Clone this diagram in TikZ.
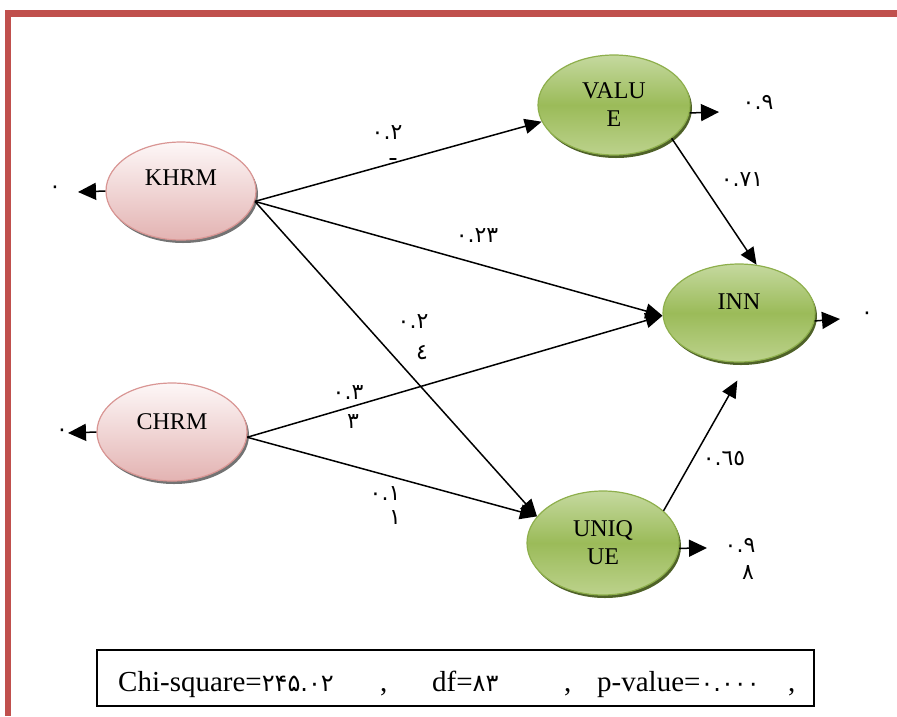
\documentclass[tikz,border=0pt]{standalone}
\usepackage{fontspec}
\setmainfont{Liberation Serif}
\newfontfamily\arab[Script=Arabic]{DejaVu Sans}
\newcommand\bnumfont{\arab\fontsize{24}{26}\selectfont}
\usetikzlibrary{shapes.geometric,arrows.meta,shadows}
\definecolor{framered}{HTML}{C0504D}
\definecolor{pinktop}{HTML}{FDF7F7}
\definecolor{pinkbot}{HTML}{E3B3B2}
\definecolor{pinkline}{HTML}{D99694}
\definecolor{greentop}{HTML}{C5D99F}
\definecolor{greenmid}{HTML}{9BBB59}
\definecolor{greenbot}{HTML}{BCD28C}
\definecolor{greenline}{HTML}{8EAF4C}
\definecolor{greenshadow}{HTML}{4F6228}
\begin{document}
\begin{tikzpicture}[x=1pt,y=-1pt,
  ellfont/.style={font=\fontsize{24}{28}\selectfont},
  pinkell/.style={ellipse, minimum width=150pt, minimum height=98pt, inner sep=0pt,
    draw=pinkline, line width=1.2pt, top color=pinktop, bottom color=pinkbot,
    drop shadow={shadow xshift=2pt, shadow yshift=-3pt, fill=black!55, opacity=1},
    ellfont},
  greenell/.style={ellipse, minimum width=152pt, minimum height=100pt, inner sep=0pt,
    draw=greenline, line width=1.2pt, top color=greentop, bottom color=greenbot, middle color=greenmid,
    drop shadow={shadow xshift=2pt, shadow yshift=-3pt, fill=greenshadow, opacity=1},
    align=center, ellfont},
  conn/.style={line width=1.5pt, -{Triangle[length=17pt,width=15pt]}},
  errarr/.style={line width=1.5pt, -{Triangle[length=18pt,width=17pt]}},
  num/.style={inner sep=0pt, font=\arab\fontsize{22}{24}\selectfont},
  boxtxt/.style={inner sep=0pt, anchor=base west, font=\fontsize{29}{32}\selectfont}
]
\useasboundingbox (0,0) rectangle (897,716);
% frame
\fill[framered] (5,10) rectangle (897,17);
\fill[framered] (5,10) rectangle (11,716);

% nodes
\node[pinkell, label={[yshift=13pt,ellfont]center:KHRM}] (KHRM) at (181,191) {};
\node[pinkell, label={[yshift=10pt,ellfont]center:CHRM}] (CHRM) at (172,432) {};
\node[greenell] (VALUE) at (614,105) {VALU\\E};
\node[greenell, minimum height=98pt, label={[yshift=11pt,ellfont]center:INN}] (INN) at (739,313) {};
\node[greenell, minimum height=104pt] (UNIQUE) at (603,543) {UNIQ\\UE};

% structural connectors
\draw[conn] (KHRM.-8) -- (VALUE.193);
\draw[conn] (KHRM.-8) -- (INN.182);
\draw[conn] (KHRM.-8) -- (UNIQUE.158);
\draw[conn] (CHRM.-4) -- (INN.182);
\draw[conn] (CHRM.-4) -- (UNIQUE.158);
\draw[conn] (VALUE.-30) -- (INN.70);
\draw[conn, shorten >=21pt] (UNIQUE.28) -- (INN.-80);

% error arrows
\coordinate (kE) at (78,192);
\coordinate (cE) at (68,433);
\coordinate (vE) at (719,112);
\coordinate (iE) at (840,319);
\coordinate (uE) at (707,548);
\draw[errarr] (KHRM.west) -- (kE);
\draw[errarr] (CHRM.west) -- (cE);
\draw[errarr] (VALUE.-6) -- (vE);
\draw[errarr] (INN.-6) -- (iE);
\draw[errarr] (UNIQUE.-4) -- (uE);

% labels
\node[num] (lk) at (55,190) {٠};
\node[num] (lc) at (62,433) {٠};
\node[num] (lv) at (758,102) {٠.٩};
\node[num] (li) at (867,316) {٠};
\node[num] (lu) at (740,545) {٠.٩};
\node[num] (lu2) at (748,573) {٨};
\node[num] (a1) at (387,133) {٠.٢};
\node[num] (a1b) at (393,160) {ـ};
\node[num] (a2) at (477,236) {٠.٢٣};
\node[num] (a3) at (413,322) {٠.٢};
\node[num] (a3b) at (422,353) {٤};
\node[num] (a4) at (348,393) {٠.٣};
\node[num] (a4b) at (353,422) {٣};
\node[num] (a5) at (385,494) {٠.١};
\node[num] (a5b) at (395,518) {١};
\node[num] (a6) at (742,180) {٠.٧١};
\node[num] (a7) at (724,459) {٠.٦٥};

% fit box
\draw[line width=1.3pt] (97,650) rectangle (814,706);
\node[boxtxt] (chi) at (118,691) {Chi-square={\bnumfont ۲۴۵.۰۲}};
\node[boxtxt] (c1) at (380,691) {,};
\node[boxtxt] (df) at (432,691) {df={\bnumfont ۸۳}};
\node[boxtxt] (c2) at (564,691) {,};
\node[boxtxt] (pv) at (597,691) {p-value={\bnumfont ۰.۰۰۰}};
\node[boxtxt] (c3) at (788,691) {,};
\end{tikzpicture}
\end{document}
